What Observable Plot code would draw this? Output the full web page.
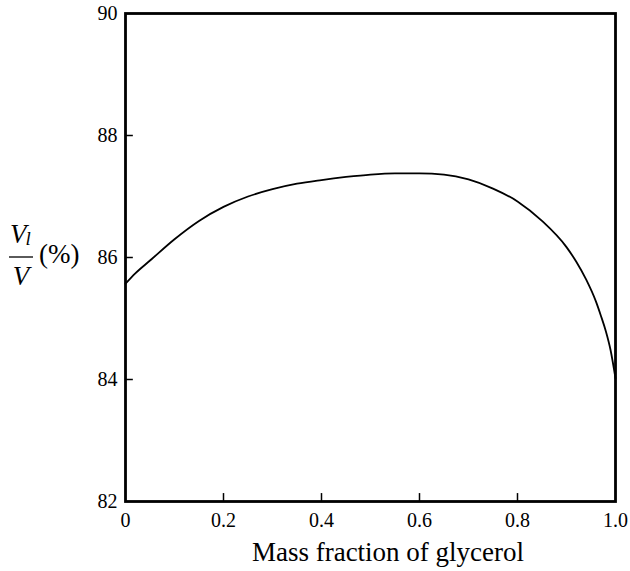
<!DOCTYPE html>
<html>
<head>
<meta charset="utf-8">
<script src="https://cdn.jsdelivr.net/npm/d3@7"></script>
<script src="https://cdn.jsdelivr.net/npm/@observablehq/plot@0.6"></script>
<style>
  html, body { margin: 0; padding: 0; background: #fff; }
  #chart { width: 630px; height: 571px; }
  #chart svg, #chart svg text { font-family: "Liberation Serif", "Times New Roman", Times, "DejaVu Serif", serif; }
</style>
</head>
<body>
<div id="chart"></div>
<script>
const massFraction = [0, 0.02, 0.05, 0.1, 0.15, 0.2, 0.25, 0.3, 0.35, 0.4, 0.45, 0.5, 0.55, 0.6, 0.65, 0.7, 0.75, 0.8, 0.85, 0.9, 0.92, 0.94, 0.96, 0.97, 0.98, 0.99, 1.0];
const volumeRatio  = [85.57, 85.74, 85.95, 86.3, 86.6, 86.83, 87.0, 87.12, 87.21, 87.27, 87.32, 87.36, 87.38, 87.38, 87.36, 87.28, 87.13, 86.92, 86.6, 86.17, 85.93, 85.64, 85.28, 85.05, 84.8, 84.48, 84.02];
const xTicks = [0, 0.2, 0.4, 0.6, 0.8, 1.0];
const xTickLabels = ["0", "0.2", "0.4", "0.6", "0.8", "1.0"];
const yTicks = [82, 84, 86, 88, 90];

const data = massFraction.map((x, i) => ({x, y: volumeRatio[i]}));
const serif = '"Liberation Serif", "Times New Roman", Times, "DejaVu Serif", serif';

const plot = Plot.plot({
  width: 630,
  height: 571,
  marginTop: 13,
  marginBottom: 70,
  marginLeft: 125,
  marginRight: 15,
  style: {fontSize: "20px", color: "#000", background: "#fff"},
  x: {domain: [0, 1]},
  y: {domain: [82, 90]},
  marks: [
    Plot.ruleX(xTicks.slice(1, -1), {y1: 82, y2: 82.13, stroke: "#000", strokeWidth: 1.5}),
    Plot.ruleY(yTicks.slice(1, -1), {x1: 0, x2: 0.016, stroke: "#000", strokeWidth: 1.5}),
    Plot.axisX(xTicks, {tickSize: 0, tickPadding: 11, tickFormat: (d, i) => xTickLabels[i], fontSize: 20, label: null}),
    Plot.axisY(yTicks, {tickSize: 0, tickPadding: 8, tickFormat: d => String(d), fontSize: 20, label: null}),
    Plot.frame({stroke: "#000", strokeWidth: 2.8}),
    Plot.line(data, {x: "x", y: "y", curve: "monotone-x", stroke: "#000", strokeWidth: 1.8})
  ]
});

document.getElementById("chart").appendChild(plot);

const svg = d3.select(plot);
// x axis title
svg.append("text")
  .attr("x", 388).attr("y", 561)
  .attr("text-anchor", "middle")
  .attr("font-family", serif).attr("font-size", 27).attr("fill", "#000")
  .text("Mass fraction of glycerol");

// y axis title as fraction  V_l / V (%)
const g = svg.append("g").attr("font-family", serif).attr("fill", "#000").attr("text-anchor", "start");
const num = g.append("text").attr("x", 10).attr("y", 243).attr("font-size", 27).attr("text-anchor", "start");
num.append("tspan").attr("font-style", "italic").text("V");
num.append("tspan").attr("font-style", "italic").attr("font-size", 19).attr("dy", 2).attr("dx", -1).text("l");
g.append("line").attr("x1", 9).attr("x2", 33).attr("y1", 257).attr("y2", 257).attr("stroke", "#000").attr("stroke-width", 1.3);
g.append("text").attr("x", 21).attr("y", 285).attr("text-anchor", "middle").attr("font-size", 27).attr("font-style", "italic").text("V");
g.append("text").attr("x", 39).attr("y", 263).attr("font-size", 27).attr("text-anchor", "start").text("(%)");
</script>
</body>
</html>
